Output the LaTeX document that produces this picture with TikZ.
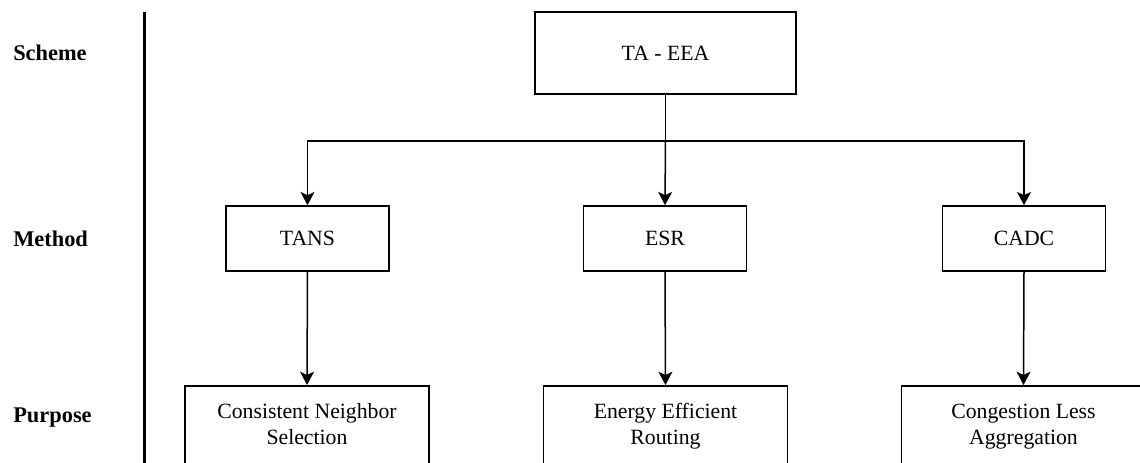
\documentclass[tikz,border=0pt]{standalone}
\usepackage{fontspec}
\setmainfont{Liberation Serif}
\usetikzlibrary{arrows.meta}
\tikzset{
  box/.style={draw, line width=1.6pt*0.75, inner sep=0pt, font=\fontsize{16.3}{18}\selectfont},
  methodbox/.style={box, minimum width=163*0.75pt, minimum height=65*0.75pt},
  purposebox/.style={box, minimum width=244*0.75pt, minimum height=110*0.75pt, anchor=north},
  ptext/.style={align=center, anchor=north, inner sep=0pt, font=\fontsize{16.3}{19.5}\selectfont},
  rowlabel/.style={anchor=west, inner sep=0pt, font=\fontsize{16.8}{19}\selectfont\bfseries},
  conn/.style={line width=1.5pt*0.75},
  arr/.style={conn, -{Stealth[length=10pt, width=10.5pt, inset=2.5pt]}}
}
\begin{document}
\begin{tikzpicture}[x=0.75pt,y=-0.75pt]
\useasboundingbox (0,0) rectangle (1140,462);
\clip (0,0) rectangle (1140,462);
% row labels
\node[rowlabel] (lscheme) at (13,53) {Scheme};
\node[rowlabel] (lmethod) at (13,239) {Method};
\node[rowlabel] (lpurpose) at (13,418) {Purpose};
% separator bar
\coordinate (bartop) at (144.5,12);
\coordinate (barbot) at (144.5,470);
\draw[line width=3pt*0.75] (bartop) -- (barbot);
% scheme
\node[box, minimum width=261*0.75pt, minimum height=82*0.75pt] (scheme) at (665.5,53) {TA - EEA};
% methods
\node[methodbox] (tans) at (307.5,238.5) {TANS};
\node[methodbox] (esr) at (665,238.5) {ESR};
\node[methodbox] (cadc) at (1024,238.5) {CADC};
% purposes
\node[purposebox] (p1) at (307,385) {};
\node[purposebox] (p2) at (665.5,385) {};
\node[purposebox] (p3) at (1023.5,385) {};
\node[ptext] (p1t) at (307,400) {\strut Consistent Neighbor\\\strut Selection};
\node[ptext] (p2t) at (665.5,400) {\strut Energy Efficient\\\strut Routing};
\node[ptext] (p3t) at (1023.5,400) {\strut Congestion Less\\\strut Aggregation};
% connectors
\coordinate (split) at (665.5,141);
\draw[conn] (scheme.south) -- (split);
\draw[arr] (split) -| (tans.north);
\draw[arr] (split) -- (esr.north);
\draw[arr] (split) -| (cadc.north);
\draw[arr] (tans.south) -- (p1.north);
\draw[arr] (esr.south) -- (p2.north);
\draw[arr] (cadc.south) -- (p3.north);
\end{tikzpicture}
\end{document}
